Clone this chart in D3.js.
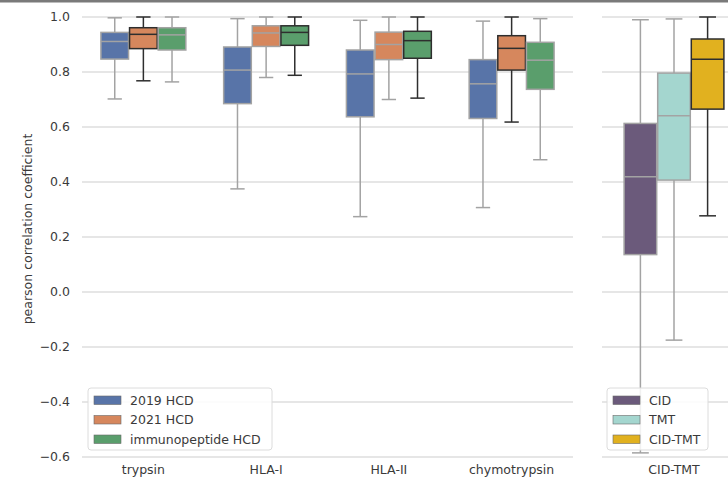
<!DOCTYPE html>
<html>
<head>
<meta charset="utf-8">
<script src="https://cdn.jsdelivr.net/npm/d3@7"></script>
<style>
  body { margin: 0; background: #fff; }
  svg { display: block; font-family: "DejaVu Sans", sans-serif; }
</style>
</head>
<body>
<svg id="chart" width="728" height="481"></svg>
<script>
// categories and series
const leftCategories = ['trypsin', 'HLA-I', 'HLA-II', 'chymotrypsin'];
const leftSeries = ['2019 HCD', '2021 HCD', 'immunopeptide HCD'];
const rightCategories = ['CID-TMT'];
const rightSeries = ['CID', 'TMT', 'CID-TMT'];
const yTicks = [-0.6, -0.4, -0.2, 0.0, 0.2, 0.4, 0.6, 0.8, 1.0];

// box stats per series: [low whisker, q1, median, q3, high whisker], one per category
const hcd2019 = [
  [0.702, 0.847, 0.911, 0.944, 0.997],
  [0.375, 0.685, 0.807, 0.891, 0.994],
  [0.274, 0.637, 0.793, 0.880, 0.988],
  [0.307, 0.631, 0.757, 0.845, 0.985]
];
const hcd2021 = [
  [0.768, 0.885, 0.937, 0.961, 1.0],
  [0.780, 0.893, 0.942, 0.968, 1.0],
  [0.700, 0.845, 0.900, 0.945, 1.0],
  [0.618, 0.807, 0.886, 0.932, 1.0]
];
const immunoHcd = [
  [0.764, 0.880, 0.935, 0.961, 1.0],
  [0.788, 0.897, 0.944, 0.968, 1.0],
  [0.705, 0.850, 0.914, 0.948, 1.0],
  [0.481, 0.737, 0.843, 0.908, 0.994]
];
const cid = [[-0.585, 0.136, 0.419, 0.613, 0.990]];
const tmt = [[-0.175, 0.407, 0.641, 0.796, 0.993]];
const cidTmt = [[0.277, 0.665, 0.846, 0.920, 1.0]];

// which box is drawn with a dark outline (best per category)
const leftBest = ['2021 HCD', 'immunopeptide HCD', 'immunopeptide HCD', '2021 HCD'];
const rightBest = ['CID-TMT'];

const leftColors = ['#5874a8', '#d6875d', '#5a9e6c'];
const rightColors = ['#6b5a7b', '#a4d6cf', '#e1b11f'];

const svg = d3.select('#chart');
const plotTop = 17, plotBottom = 457;

const y = d3.scaleLinear().domain([-0.6, 1.0]).range([plotBottom, plotTop]);

// top border strip
svg.append('rect').attr('x', 0).attr('y', 0).attr('width', 728).attr('height', 2.5).attr('fill', '#7a7a7a');

const drawPanel = (x0, x1, categories, series, values, colors, best, showTicks) => {
  const g = svg.append('g');

  // horizontal grid
  g.selectAll('line.grid')
    .data(yTicks)
    .join('line')
    .attr('x1', x0).attr('x2', x1)
    .attr('y1', d => y(d)).attr('y2', d => y(d))
    .attr('stroke', '#dedede')
    .attr('stroke-width', 1.4);

  if (showTicks) {
    g.selectAll('text.ytick')
      .data(yTicks)
      .join('text')
      .attr('x', x0 - 12)
      .attr('y', d => y(d))
      .attr('dy', '0.35em')
      .attr('text-anchor', 'end')
      .attr('font-size', 12.5)
      .attr('fill', '#3a3a3a')
      .text(d => d3.format('.1f')(d).replace('-', '\u2212'));
  }

  const x = d3.scaleBand().domain(categories).range([x0, x1]);
  const xs = d3.scaleBand().domain(series).range([0, x.bandwidth() * 0.7]);
  const offset = x.bandwidth() * 0.15;

  // category labels
  g.selectAll('text.xtick')
    .data(categories)
    .join('text')
    .attr('x', d => x(d) + x.bandwidth() / 2)
    .attr('y', 474)
    .attr('text-anchor', 'middle')
    .attr('font-size', 12.5)
    .attr('fill', '#3a3a3a')
    .text(d => d);

  const boxes = [];
  categories.forEach((c, ci) => {
    series.forEach((s, si) => {
      boxes.push({ c, s, si, stats: values[si][ci], dark: best[ci] === s });
    });
  });

  const bg = g.selectAll('g.box')
    .data(boxes)
    .join('g')
    .attr('transform', d => `translate(${x(d.c) + offset + xs(d.s)},0)`);

  const bw = xs.bandwidth();
  const lc = d => d.dark ? '#2e2e2e' : '#a3a3a3';
  const capW = bw * 0.5;

  // whiskers
  bg.append('line')
    .attr('x1', bw / 2).attr('x2', bw / 2)
    .attr('y1', d => y(d.stats[0])).attr('y2', d => y(d.stats[1]))
    .attr('stroke', lc).attr('stroke-width', 1.5);
  bg.append('line')
    .attr('x1', bw / 2).attr('x2', bw / 2)
    .attr('y1', d => y(d.stats[3])).attr('y2', d => y(d.stats[4]))
    .attr('stroke', lc).attr('stroke-width', 1.5);
  // caps
  bg.append('line')
    .attr('x1', bw / 2 - capW / 2).attr('x2', bw / 2 + capW / 2)
    .attr('y1', d => y(d.stats[0])).attr('y2', d => y(d.stats[0]))
    .attr('stroke', lc).attr('stroke-width', 1.5);
  bg.append('line')
    .attr('x1', bw / 2 - capW / 2).attr('x2', bw / 2 + capW / 2)
    .attr('y1', d => y(d.stats[4])).attr('y2', d => y(d.stats[4]))
    .attr('stroke', lc).attr('stroke-width', 1.5);
  // box
  bg.append('rect')
    .attr('x', 0.5).attr('width', bw - 1)
    .attr('y', d => y(d.stats[3]))
    .attr('height', d => y(d.stats[1]) - y(d.stats[3]))
    .attr('fill', d => colors[d.si])
    .attr('stroke', lc).attr('stroke-width', 1.5);
  // median
  bg.append('line')
    .attr('x1', 0.5).attr('x2', bw - 0.5)
    .attr('y1', d => y(d.stats[2])).attr('y2', d => y(d.stats[2]))
    .attr('stroke', lc).attr('stroke-width', 1.5);

  return g;
};

const drawLegend = (lx, ly, w, series, colors) => {
  const lg = svg.append('g').attr('transform', `translate(${lx},${ly})`);
  lg.append('rect')
    .attr('width', w).attr('height', 62)
    .attr('rx', 3)
    .attr('fill', 'rgba(255,255,255,0.85)')
    .attr('stroke', '#dcdcdc');
  const items = lg.selectAll('g.item')
    .data(series)
    .join('g')
    .attr('transform', (d, i) => `translate(6,${8 + i * 19.5})`);
  items.append('rect')
    .attr('width', 27).attr('height', 8.5)
    .attr('fill', (d, i) => colors[i])
    .attr('stroke', '#6a6a6a').attr('stroke-width', 0.6);
  items.append('text')
    .attr('x', 36).attr('y', 4.5)
    .attr('dy', '0.35em')
    .attr('font-size', 12.5)
    .attr('fill', '#3a3a3a')
    .text(d => d);
};

drawPanel(82, 573, leftCategories, leftSeries, [hcd2019, hcd2021, immunoHcd], leftColors, leftBest, true);
drawPanel(602, 746, rightCategories, rightSeries, [cid, tmt, cidTmt], rightColors, rightBest, false);

drawLegend(88, 388, 184, leftSeries, leftColors);
drawLegend(607, 388, 101, rightSeries, rightColors);

// y axis label
svg.append('text')
  .attr('transform', `translate(32,${(plotTop + plotBottom) / 2 - 8}) rotate(-90)`)
  .attr('text-anchor', 'middle')
  .attr('font-size', 12.5)
  .attr('fill', '#3a3a3a')
  .text('pearson correlation coefficient');
</script>
</body>
</html>
